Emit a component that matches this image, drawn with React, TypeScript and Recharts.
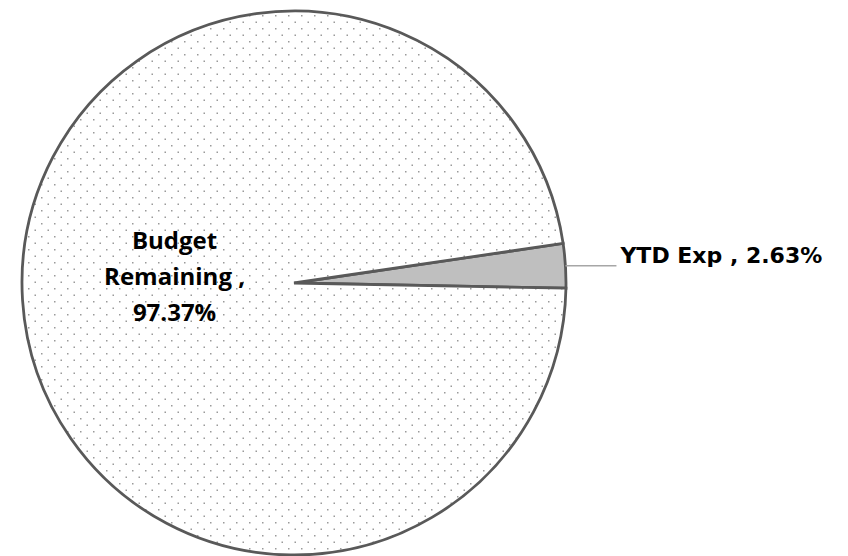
import React from "react";
import { PieChart, Pie, Cell } from "recharts";

const NAMES = ["YTD Exp", "Budget Remaining"];
const VALUES = [2.63, 97.37];
const FILLS = ["#bfbfbf", "url(#dots)"];

const data = NAMES.map((name, i) => ({ name, value: VALUES[i] }));

const RAD = Math.PI / 180;

function renderLabel(props: any) {
  const { cx, cy, midAngle, outerRadius, index, name, value } = props;
  if (index === 0) {
    const x0 = cx + outerRadius * Math.cos(-midAngle * RAD);
    const y0 = cy + outerRadius * Math.sin(-midAngle * RAD);
    return (
      <g>
        <line x1={x0} y1={y0} x2={x0 + 51} y2={y0} stroke="#a6a6a6" strokeWidth={1.5} />
        <text
          x={x0 + 55}
          y={y0 - 10}
          fill="#000"
          fontFamily="DejaVu Sans"
          fontWeight="bold"
          fontSize={22}
          dominantBaseline="central"
        >
          {`${name} , ${value.toFixed(2)}%`}
        </text>
      </g>
    );
  }
  const r = outerRadius * 0.44;
  const x = cx + r * Math.cos(-midAngle * RAD);
  const y = cy + r * Math.sin(-midAngle * RAD) - 15;
  const lines = ["Budget", "Remaining ,", `${value.toFixed(2)}%`];
  return (
    <text
      x={x}
      y={y}
      fill="#000"
      fontFamily="Open Sans"
      fontWeight="bold"
      fontSize={24}
      textAnchor="middle"
    >
      {lines.map((l, i) => (
        <tspan key={i} x={x} y={y - 36 + i * 36} dominantBaseline="central">
          {l}
        </tspan>
      ))}
    </text>
  );
}

export default function App() {
  return (
    <div style={{ position: "absolute", left: 0, top: 0, width: 848, height: 556, background: "#fff" }}>
      <PieChart width={848} height={556} margin={{ top: 0, right: 0, bottom: 0, left: 0 }}>
        <defs>
          <pattern id="dots" width={13} height={13} patternUnits="userSpaceOnUse">
            <rect width={13} height={13} fill="#fff" />
            <rect x={2} y={2} width={1.5} height={1.5} fill="#9a9a9a" />
            <rect x={8.5} y={8.5} width={1.5} height={1.5} fill="#9a9a9a" />
          </pattern>
        </defs>
        <Pie
          data={data}
          dataKey="value"
          nameKey="name"
          cx={294}
          cy={283}
          outerRadius={272}
          startAngle={-1.1}
          endAngle={358.9}
          stroke="#595959"
          strokeWidth={2.8}
          label={renderLabel}
          labelLine={false}
          isAnimationActive={false}
        >
          {data.map((d, i) => (
            <Cell key={d.name} fill={FILLS[i]} />
          ))}
        </Pie>
      </PieChart>
    </div>
  );
}
